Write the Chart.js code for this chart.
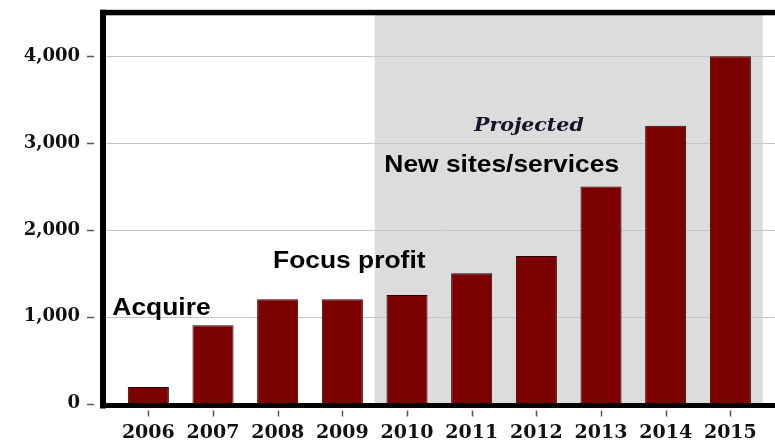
<!DOCTYPE html>
<html>
<head>
<meta charset="utf-8">
<script src="https://cdn.jsdelivr.net/npm/chart.js@4.4.1/dist/chart.umd.min.js"></script>
<style>
  html, body { margin: 0; padding: 0; background: #ffffff; }
  #wrap { width: 775px; height: 443px; }
</style>
</head>
<body>
<div id="wrap"><canvas id="chart" width="775" height="443"></canvas></div>
<script>
// Yearly figures, actual through 2009 and projected afterwards
const years = ['2006', '2007', '2008', '2009', '2010', '2011', '2012', '2013', '2014', '2015'];
const values = [190, 900, 1200, 1200, 1250, 1500, 1700, 2500, 3200, 4000];
const yTickValues = [0, 1000, 2000, 3000, 4000];
const yMax = 4500;
// Category position where the projected band starts (between 2009 and 2010)
const projectedStart = 3.5;

// Phase notes, placed in category / value units
const noteTexts = ['Acquire', 'Focus profit', 'New sites/services'];
const noteX = [-0.557, 1.928, 3.649];
const noteY = [1023, 1563, 2661];
const bandLabel = 'Projected';
const bandLabelX = 5.884;
const bandLabelY = 3137;

const BAR_FILL = '#7b0000';
const BAR_EDGE = '#2a0000';

const decorations = {
  id: 'decorations',
  beforeDatasetsDraw(chart) {
    const { ctx, chartArea: a, scales: { x, y } } = chart;
    ctx.save();
    // shaded projected region
    const xs = x.getPixelForValue(projectedStart);
    ctx.fillStyle = '#dcdcdc';
    ctx.fillRect(xs, a.top, a.right - xs, a.bottom - a.top);
    // horizontal gridlines
    ctx.strokeStyle = '#c6c6c6';
    ctx.lineWidth = 1;
    yTickValues.forEach(v => {
      if (v === 0) return;
      const py = Math.round(y.getPixelForValue(v)) + 0.5;
      ctx.beginPath();
      ctx.moveTo(a.left - 10, py);
      ctx.lineTo(chart.width, py);
      ctx.stroke();
    });
    ctx.restore();
  },
  afterDatasetsDraw(chart) {
    const { ctx, chartArea: a, scales: { x, y } } = chart;
    ctx.save();
    // heavy frame: left, top and bottom rules
    ctx.fillStyle = '#000000';
    ctx.fillRect(a.left - 16, a.top - 3, 6, a.bottom - a.top + 8);
    ctx.fillRect(a.left - 16, a.top - 3, chart.width, 5.5);
    ctx.fillRect(a.left - 16, a.bottom - 0.5, chart.width, 5);
    // short dashes beside the value labels
    ctx.strokeStyle = '#555555';
    ctx.lineWidth = 1.5;
    yTickValues.forEach(v => {
      const py = Math.round(y.getPixelForValue(v)) + 0.5;
      ctx.beginPath();
      ctx.moveTo(a.left - 29, py);
      ctx.lineTo(a.left - 22, py);
      ctx.stroke();
    });
    // small ticks under each year
    years.forEach((_, i) => {
      const px = Math.round(x.getPixelForValue(i)) + 0.5;
      ctx.beginPath();
      ctx.moveTo(px, a.bottom + 7);
      ctx.lineTo(px, a.bottom + 13);
      ctx.stroke();
    });
    // phase notes
    ctx.fillStyle = '#000000';
    ctx.textAlign = 'left';
    ctx.textBaseline = 'alphabetic';
    ctx.font = 'bold 24px "Liberation Sans", Arial, sans-serif';
    noteTexts.forEach((t, i) => {
      ctx.save();
      ctx.translate(x.getPixelForValue(noteX[i]), y.getPixelForValue(noteY[i]));
      ctx.scale(1.1, 1);
      ctx.fillText(t, 0, 0);
      ctx.restore();
    });
    ctx.fillStyle = '#15152a';
    ctx.textAlign = 'center';
    ctx.font = 'italic bold 18px "DejaVu Serif", serif';
    ctx.save();
    ctx.translate(x.getPixelForValue(bandLabelX), y.getPixelForValue(bandLabelY));
    ctx.scale(1.14, 1);
    ctx.fillText(bandLabel, 0, 0);
    ctx.restore();
    ctx.restore();
  }
};

new Chart(document.getElementById('chart'), {
  type: 'bar',
  data: {
    labels: years,
    datasets: [{
      data: values,
      backgroundColor: BAR_FILL,
      borderColor: BAR_EDGE,
      borderWidth: 1,
      barPercentage: 0.635,
      categoryPercentage: 1
    }]
  },
  options: {
    responsive: false,
    devicePixelRatio: 1,
    animation: false,
    layout: { padding: { top: 10, right: 12.3, bottom: 0, left: 0 } },
    plugins: { legend: { display: false }, tooltip: { enabled: false }, title: { display: false } },
    scales: {
      x: {
        grid: { display: true, drawOnChartArea: false, drawTicks: true, tickLength: 16, color: 'rgba(0,0,0,0)' },
        border: { display: false },
        ticks: {
          color: '#111111',
          padding: 2,
          maxRotation: 0,
          autoSkip: false,
          font: { family: '"DejaVu Serif", serif', weight: 'bold', size: 19 }
        },
        afterFit(scale) { scale.height = 39.5; }
      },
      y: {
        min: 0,
        max: yMax,
        grid: { display: true, drawOnChartArea: false, drawTicks: true, tickLength: 34, color: 'rgba(0,0,0,0)' },
        border: { display: false },
        afterBuildTicks(scale) {
          scale.ticks = yTickValues.map(v => ({ value: v }));
        },
        ticks: {
          color: '#111111',
          padding: 2,
          font: { family: '"DejaVu Serif", serif', weight: 'bold', size: 18 },
          callback: v => v.toLocaleString('en-US')
        },
        afterFit(scale) { scale.width = 116; }
      }
    }
  },
  plugins: [decorations]
});
</script>
</body>
</html>
